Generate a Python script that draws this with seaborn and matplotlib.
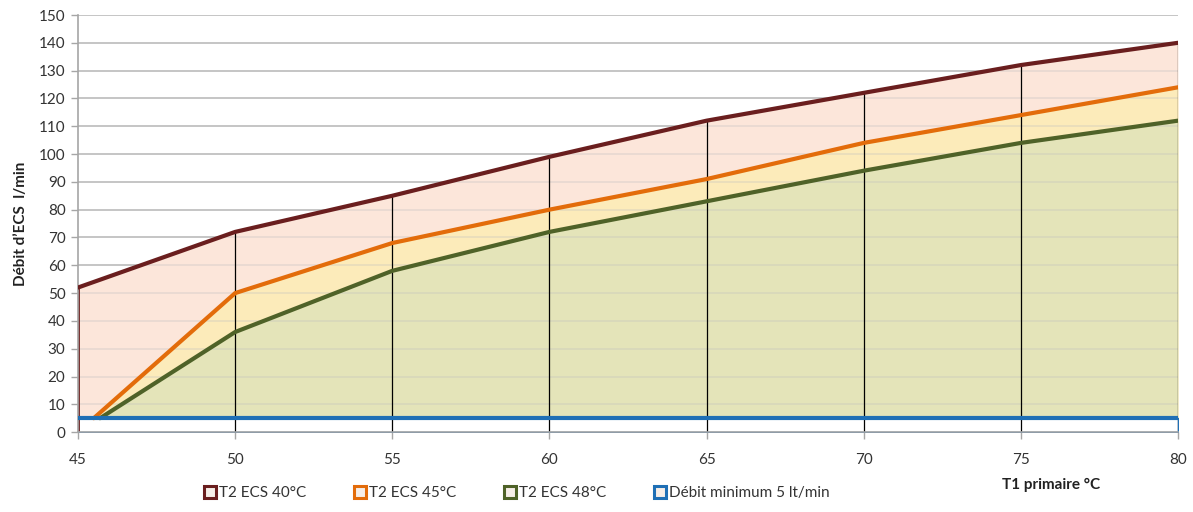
import numpy as np
import pandas as pd
import matplotlib
matplotlib.use("Agg")
import matplotlib.pyplot as plt
from matplotlib.lines import Line2D
import seaborn as sns

# Data
t1_40 = [45, 50, 55, 60, 65, 70, 75, 80]
ecs_40 = [52, 72, 85, 99, 112, 122, 132, 140]

t1_45 = [45.5, 50, 55, 60, 65, 70, 75, 80]
ecs_45 = [5, 50, 68, 80, 91, 104, 114, 124]

t1_48 = [45.7, 50, 55, 60, 65, 70, 75, 80]
ecs_48 = [5, 36, 58, 72, 83, 94, 104, 112]

t1_min = [45, 80]
debit_min = [5, 5]

labels = ["T2 ECS 40°C", "T2 ECS 45°C", "T2 ECS 48°C", "Débit minimum 5 lt/min"]
line_colors = ["#6A1E1E", "#E36C0A", "#4F6228", "#1F6FB5"]
fill_colors = ["#FCE6DA", "#FCEBBA", "#E4E4B9"]

sns.set_style("white")
plt.rcParams["font.family"] = ["Lato", "DejaVu Sans"]

fig, ax = plt.subplots(figsize=(11.93, 5.12), dpi=100)
fig.subplots_adjust(left=0.0654, right=0.9874, top=0.9707, bottom=0.156)

# stacked fills (drawn back to front)
ax.fill_between(t1_40, ecs_40, 0, color=fill_colors[0], lw=0, zorder=1)
ax.fill_between(t1_45, ecs_45, 0, color=fill_colors[1], lw=0, zorder=1.1)
ax.fill_between(t1_48, ecs_48, 0, color=fill_colors[2], lw=0, zorder=1.2)

# grid lines, faintly visible through the areas
for v in range(10, 160, 10):
    ax.axhline(v, color="#BFBFBF", lw=1.2, zorder=0.5)
    ax.axhline(v, color="#BFBFBF", lw=1.2, alpha=0.35, zorder=1.5)

# white band for the minimum flow
ax.fill_between(t1_min, debit_min, 0, facecolor="white", edgecolor=line_colors[3], lw=1, zorder=2)

# drop lines
ax.vlines(t1_40[1:], 0, ecs_40[1:], color="black", lw=0.9, zorder=2.5)
ax.vlines(t1_40[0], 0, ecs_40[0], color=line_colors[0], lw=2, zorder=2.5)

df = pd.concat([
    pd.DataFrame({"t1": t1_40, "debit": ecs_40, "serie": labels[0]}),
    pd.DataFrame({"t1": t1_45, "debit": ecs_45, "serie": labels[1]}),
    pd.DataFrame({"t1": t1_48, "debit": ecs_48, "serie": labels[2]}),
    pd.DataFrame({"t1": t1_min, "debit": debit_min, "serie": labels[3]}),
])
sns.lineplot(data=df, x="t1", y="debit", hue="serie", palette=dict(zip(labels, line_colors)),
             linewidth=3, legend=False, ax=ax, zorder=3, estimator=None, sort=False)

ax.set_xlim(45, 80)
ax.set_ylim(0, 150)
ax.set_xticks(range(45, 81, 5))
ax.set_yticks(range(0, 151, 10))
ax.tick_params(axis="both", labelsize=11, length=5, width=1, direction="out",
               left=True, bottom=True, pad=4)
ax.tick_params(axis="x", pad=10)
for sp in ["top", "right"]:
    ax.spines[sp].set_visible(False)
for sp in ["left", "bottom"]:
    ax.spines[sp].set_color("#A6A6A6")
    ax.spines[sp].set_linewidth(1.2)
ax.tick_params(colors="#A6A6A6", labelcolor="#333333")

ax.set_xlabel("")
ax.set_ylabel("Débit d’ECS  l/min", fontsize=11, fontweight="bold", color="#222222", labelpad=8)

handles = [Line2D([], [], ls="", marker="s", markersize=8, markeredgewidth=2.2,
                  markeredgecolor=c, markerfacecolor="#F6EEE8") for c in line_colors]
fig.legend(handles, labels, loc="center left", bbox_to_anchor=(0.158, 0.037), ncol=4,
           frameon=False, fontsize=11, handletextpad=0.1, columnspacing=3.0,
           handlelength=1.0, labelcolor="#333333")
fig.text(0.84, 0.045, "T1 primaire °C", fontsize=11, fontweight="bold", color="#222222")

fig.savefig("out.png", dpi=100)
